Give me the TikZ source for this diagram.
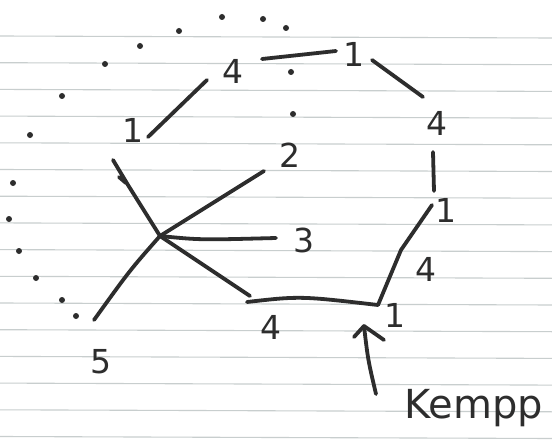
\documentclass[tikz,border=0pt]{standalone}
\usepackage{fontspec}
\setmainfont{DejaVu Sans}
\definecolor{ink}{RGB}{45,45,45}
\definecolor{ruling}{RGB}{200,206,206}
\begin{document}
\begin{tikzpicture}[x=1pt,y=-1pt,
  stroke/.style={draw=ink,line width=3.8pt,line cap=round,line join=round},
  lbl/.style={text=ink,font=\fontsize{33}{33}\selectfont,inner sep=0pt},
  dotmark/.style={circle,fill=ink,inner sep=0pt,minimum size=6pt}]
\useasboundingbox (0,0) rectangle (552,444);
\fill[white] (0,0) rectangle (552,444);
% ruled paper
\foreach \y in {36,62.7,...,440} \draw[ruling,line width=1.1pt] (0,\y) -- (552,\y+2);
% dotted arc
\foreach \p [count=\i] in {(76,316),(62,300),(36,278),(19,251),(9,219),(13,183),(30,135),(62,96),(105,64),(140,46),(179,31),(222,17),(263,19),(286,28),(291,72),(293,114)}
  \node[dotmark] (d\i) at \p {};
% star centre and spokes
\coordinate (c) at (160,236);
\coordinate (s1) at (113,160);
\coordinate (s1b) at (128,185);
\coordinate (h1) at (119,177);
\coordinate (h2) at (126,183);
\coordinate (s2) at (264,171);
\coordinate (s3) at (276,238);
\coordinate (s4) at (250,296);
\coordinate (s5) at (94,320);
\draw[stroke] (s1) -- (s1b) -- (c);
\draw[stroke] (h1) -- (h2);
\draw[stroke] (c) -- (s2);
\draw[stroke] (c) .. controls (200,240) .. (s3);
\draw[stroke] (c) -- (s4);
\draw[stroke] (c) .. controls (130,270) .. (s5);
% polygon edges
\coordinate (e1s) at (148,137); \coordinate (e1t) at (207,80);
\coordinate (e2s) at (262,59);  \coordinate (e2t) at (336,51);
\coordinate (e3s) at (372,60);  \coordinate (e3t) at (423,97);
\coordinate (e4s) at (433,152); \coordinate (e4t) at (434,191);
\coordinate (e5s) at (432,205); \coordinate (e5m) at (401,250); \coordinate (e5t) at (378,305);
\coordinate (e6s) at (247,302);
\draw[stroke] (e1s) -- (e1t);
\draw[stroke] (e2s) -- (e2t);
\draw[stroke] (e3s) -- (e3t);
\draw[stroke] (e4s) -- (e4t);
\draw[stroke] (e5s) -- (e5m) -- (e5t);
\draw[stroke] (e6s) .. controls (300,296) .. (e5t);
% arrow
\coordinate (ab) at (376,394);
\coordinate (at) at (364,326);
\coordinate (al) at (354,337);
\coordinate (ar) at (384,340);
\draw[stroke] (ab) .. controls (368,360) .. (at);
\draw[stroke] (al) -- (at) -- (ar);
% labels
\node[lbl] (l1) at (133,130) {1};
\node[lbl] (l2) at (233,71) {4};
\node[lbl] (l3) at (354,54) {1};
\node[lbl] (l4) at (437,123) {4};
\node[lbl] (l5) at (446,210) {1};
\node[lbl] (l6) at (426,269) {4};
\node[lbl] (l7) at (395,315) {1};
\node[lbl] (l8) at (271,327) {4};
\node[lbl] (n2) at (290,155) {2};
\node[lbl] (n3) at (304,240) {3};
\node[lbl] (n5) at (101,362) {5};
\node[lbl,font=\fontsize{40}{40}\selectfont,anchor=west] (k) at (404,408) {Kempp};
\end{tikzpicture}
\end{document}
